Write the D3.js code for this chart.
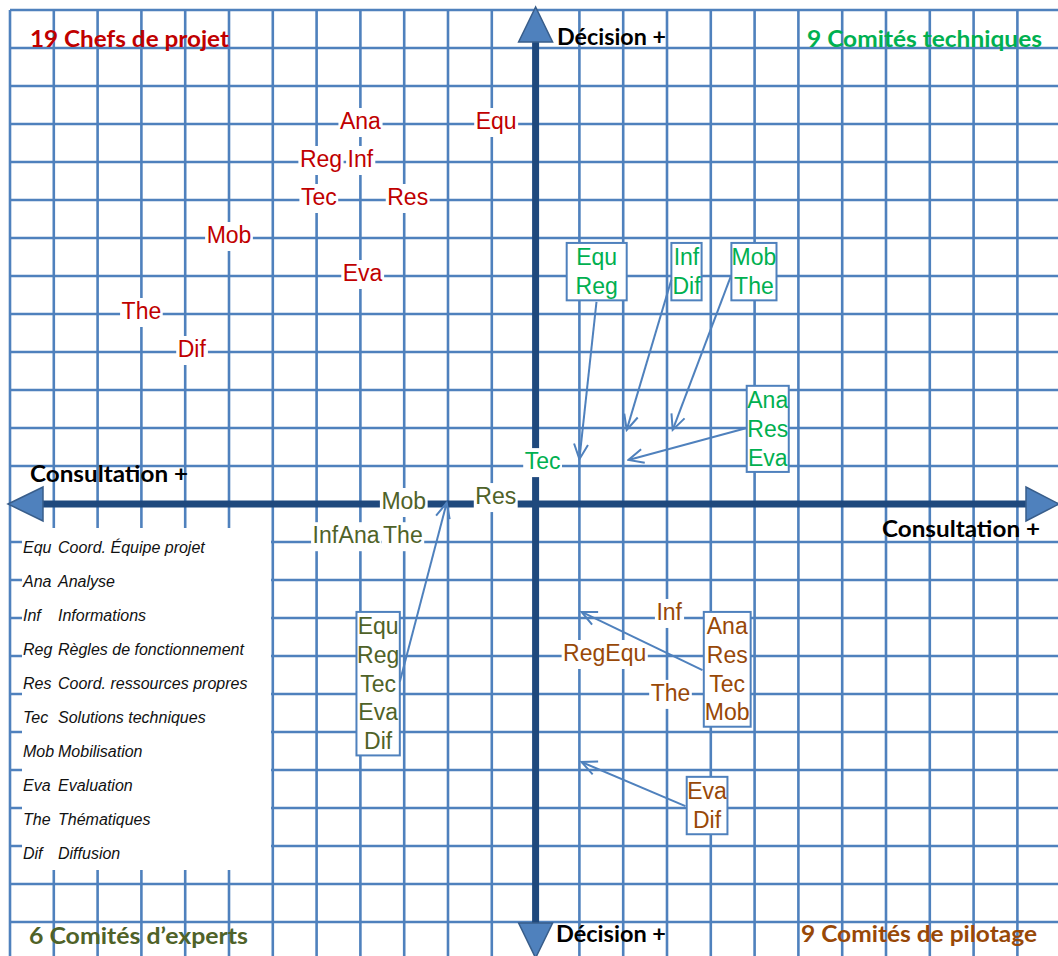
<!DOCTYPE html>
<html><head><meta charset="utf-8">
<script src="https://cdn.jsdelivr.net/npm/d3@7"></script>
<style>body{margin:0;background:#fff;} svg{display:block}</style>
</head><body>
<svg id="c" width="1058" height="956"></svg>
<script>
// ---------------- DATA ----------------
// Grid units: 1 unit = one cell; origin = axes crossing
const gridU = d3.range(-12, 13);
const gridV = d3.range(-12, 14);

// 19 Chefs de projet (red)
const chefsLabels = ["Ana", "Equ", "Reg", "Inf", "Tec", "Res", "Mob", "Eva", "The", "Dif"];
const chefsU      = [-4,   -0.9,  -4.9,  -4,    -4.95, -2.92, -7,    -3.95, -9,    -7.85];
const chefsV      = [10,    10,    9,     9,     8,     8,     7,     6,     5,     4];

// 9 Comités techniques (green)
const techLabels = ["Tec"];
const techU = [0.16];
const techV = [1.05];
const techBoxItems = [["Equ", "Reg"], ["Inf", "Dif"], ["Mob", "The"], ["Ana", "Res", "Eva"]];
const techBoxU0 = [0.71, 3.1, 4.47, 4.82];
const techBoxU1 = [2.08, 3.79, 5.5, 5.78];
const techBoxTop = [6.87, 6.87, 6.87, 3.11];
const techArrowFrom = [[1.39, 5.32], [3.1, 5.9], [4.45, 5.97], [4.82, 2.0]];
const techArrowTo   = [[1.0, 1.18], [2.08, 1.95], [3.13, 1.95], [2.12, 1.16]];

// 6 Comités d'experts (olive)
const expLabels = ["Mob", "Res", "Inf", "Ana", "The"];
const expU = [-3.01, -0.91, -4.8, -4.03, -3.03];
const expV = [0, 0.13, -0.9, -0.9, -0.9];
const expBoxItems = [["Equ", "Reg", "Tec", "Eva", "Dif"]];
const expBoxU0 = [-4.09];
const expBoxU1 = [-3.1];
const expBoxTop = [-2.84];
const expArrowFrom = [[-3.1, -4.68]];
const expArrowTo   = [[-2.03, 0.03]];

// 9 Comités de pilotage (brown)
const pilLabels = ["Inf", "Reg", "Equ", "The"];
const pilU = [3.05, 1.11, 2.06, 3.08];
const pilV = [-2.92, -4, -4, -5.05];
const pilBoxItems = [["Ana", "Res", "Tec", "Mob"], ["Eva", "Dif"]];
const pilBoxU0 = [3.84, 3.45];
const pilBoxU1 = [4.91, 4.38];
const pilBoxTop = [-2.84, -7.18];
const pilArrowFrom = [[3.81, -4.37], [3.42, -7.95]];
const pilArrowTo   = [[1.05, -2.84], [1.05, -6.79]];

// Legend
const legendAbbr = ["Equ", "Ana", "Inf", "Reg", "Res", "Tec", "Mob", "Eva", "The", "Dif"];
const legendDesc = ["Coord. Équipe projet", "Analyse", "Informations", "Règles de fonctionnement",
  "Coord. ressources propres", "Solutions techniques", "Mobilisation", "Evaluation", "Thématiques", "Diffusion"];

// Quadrant titles & axis titles
const quadTitles = ["19 Chefs de projet", "9 Comités techniques", "6 Comités d\u2019experts", "9 Comités de pilotage"];
const axisTitles = ["Décision +", "Consultation +", "Consultation +", "Décision +"];

// ---------------- DRAW ----------------
const COLORS = { red: "#C00000", green: "#00B050", olive: "#4F6228", brown: "#984807" };
const GRID = "#4F81BD", AXIS = "#1F497D";
const svg = d3.select("#c");
const x = d3.scaleLinear().domain([-12, 12]).range([10, 10 + 24 * 43.8]);
const y = d3.scaleLinear().domain([13, -12]).range([10, 10 + 25 * 38]);
const LABEL_FONT = "'Liberation Sans', Arial, sans-serif";
const TITLE_FONT = "Lato, 'Open Sans', sans-serif";

svg.append("rect").attr("width", 1058).attr("height", 956).attr("fill", "#fff");

// grid
const gg = svg.append("g").attr("stroke", GRID).attr("stroke-width", 2.6);
gg.selectAll("line.v").data(gridU).join("line")
  .attr("x1", d => x(d)).attr("x2", d => x(d)).attr("y1", y(13)).attr("y2", 956);
gg.selectAll("line.h").data(gridV).join("line")
  .attr("y1", d => y(d)).attr("y2", d => y(d)).attr("x1", x(-12)).attr("x2", 1058);

// legend white area
svg.append("rect").attr("x", 22).attr("y", 528).attr("width", 249).attr("height", 342).attr("fill", "#fff");
const lg = svg.append("g").attr("font-family", LABEL_FONT).attr("font-style", "italic")
  .attr("font-size", 16).attr("fill", "#111");
legendAbbr.forEach((a, i) => {
  const yy = 553 + i * 34.0;
  lg.append("text").attr("x", 23).attr("y", yy).text(a);
  lg.append("text").attr("x", 58).attr("y", yy).text(legendDesc[i]);
});

// axes
const ax = svg.append("g");
const x0 = x(0), y0 = y(0);
ax.append("line").attr("x1", 40).attr("x2", 1028).attr("y1", y0).attr("y2", y0)
  .attr("stroke", AXIS).attr("stroke-width", 7);
ax.append("line").attr("x1", x0).attr("x2", x0).attr("y1", 40).attr("y2", 924)
  .attr("stroke", AXIS).attr("stroke-width", 7);
const tri = [
  [[x0, 7], [x0 - 17, 42], [x0 + 17, 42]],
  [[x0, 958], [x0 - 17, 923], [x0 + 17, 923]],
  [[8, y0], [43, y0 - 17], [43, y0 + 17]],
  [[1059, y0], [1026, y0 - 17], [1026, y0 + 17]]
];
ax.selectAll("path.tri").data(tri).join("path")
  .attr("d", d => "M" + d.join("L") + "Z")
  .attr("fill", "#4F81BD").attr("stroke", "#385D8A").attr("stroke-width", 1.5).attr("stroke-linejoin", "miter");

// titles
function title(txt, xx, yy, w, color, size) {
  svg.append("text").attr("x", xx).attr("y", yy).text(txt)
    .attr("font-family", TITLE_FONT).attr("font-weight", 700).attr("font-size", size)
    .attr("fill", color).attr("textLength", w).attr("lengthAdjust", "spacingAndGlyphs");
}
title(quadTitles[0], 30, 47, 199, COLORS.red, 23);
title(quadTitles[1], 807, 47, 235, COLORS.green, 23);
title(quadTitles[2], 29, 944, 219, COLORS.olive, 23);
title(quadTitles[3], 801, 942, 236, COLORS.brown, 23);
title(axisTitles[0], 557, 45, 109, "#000", 23);
title(axisTitles[1], 30, 482, 158, "#000", 23);
title(axisTitles[2], 882, 537, 158, "#000", 23);
title(axisTitles[3], 556, 942, 110, "#000", 23);

// labels
function drawLabels(names, us, vs, color) {
  const g = svg.append("g");
  const bg = g.append("g"), fg = g.append("g");
  names.forEach((n, i) => {
    const t = fg.append("text").attr("x", x(us[i])).attr("y", y(vs[i]) + 5)
      .attr("text-anchor", "middle").attr("font-family", LABEL_FONT).attr("font-size", 23)
      .attr("fill", color).text(n);
    const bb = t.node().getBBox();
    bg.append("rect").attr("x", bb.x - 1.5).attr("y", y(vs[i]) + 5 - 21)
      .attr("width", bb.width + 3).attr("height", 29).attr("fill", "#fff");
  });
}
drawLabels(chefsLabels, chefsU, chefsV, COLORS.red);
drawLabels(techLabels, techU, techV, COLORS.green);
drawLabels(expLabels, expU, expV, COLORS.olive);
drawLabels(pilLabels, pilU, pilV, COLORS.brown);

// boxes
function drawBoxes(items, u0, u1, top, color) {
  const g = svg.append("g");
  items.forEach((lines, i) => {
    const bx = x(u0[i]), bw = x(u1[i]) - x(u0[i]), by = y(top[i]);
    g.append("rect").attr("x", bx).attr("y", by).attr("width", bw).attr("height", lines.length * 28.7)
      .attr("fill", "#fff").attr("stroke", GRID).attr("stroke-width", 2);
    lines.forEach((l, j) => {
      g.append("text").attr("x", bx + bw / 2).attr("y", by + 22.5 + j * 28.6)
        .attr("text-anchor", "middle").attr("font-family", LABEL_FONT).attr("font-size", 23)
        .attr("fill", color).text(l);
    });
  });
}
drawBoxes(techBoxItems, techBoxU0, techBoxU1, techBoxTop, COLORS.green);
drawBoxes(expBoxItems, expBoxU0, expBoxU1, expBoxTop, COLORS.olive);
drawBoxes(pilBoxItems, pilBoxU0, pilBoxU1, pilBoxTop, COLORS.brown);

// arrows
svg.append("defs").append("marker").attr("id", "ah")
  .attr("markerUnits", "userSpaceOnUse").attr("viewBox", "-18 -10 20 20")
  .attr("refX", 0).attr("refY", 0).attr("markerWidth", 20).attr("markerHeight", 20)
  .attr("orient", "auto")
  .append("path").attr("d", "M-15,-7L0,0L-15,7").attr("fill", "none")
  .attr("stroke", GRID).attr("stroke-width", 2);
function drawArrows(from, to) {
  svg.append("g").selectAll("line").data(from.map((f, i) => [f, to[i]])).join("line")
    .attr("x1", d => x(d[0][0])).attr("y1", d => y(d[0][1]))
    .attr("x2", d => x(d[1][0])).attr("y2", d => y(d[1][1]))
    .attr("stroke", GRID).attr("stroke-width", 2).attr("marker-end", "url(#ah)");
}
drawArrows(techArrowFrom, techArrowTo);
drawArrows(expArrowFrom, expArrowTo);
drawArrows(pilArrowFrom, pilArrowTo);
</script>
</body></html>
